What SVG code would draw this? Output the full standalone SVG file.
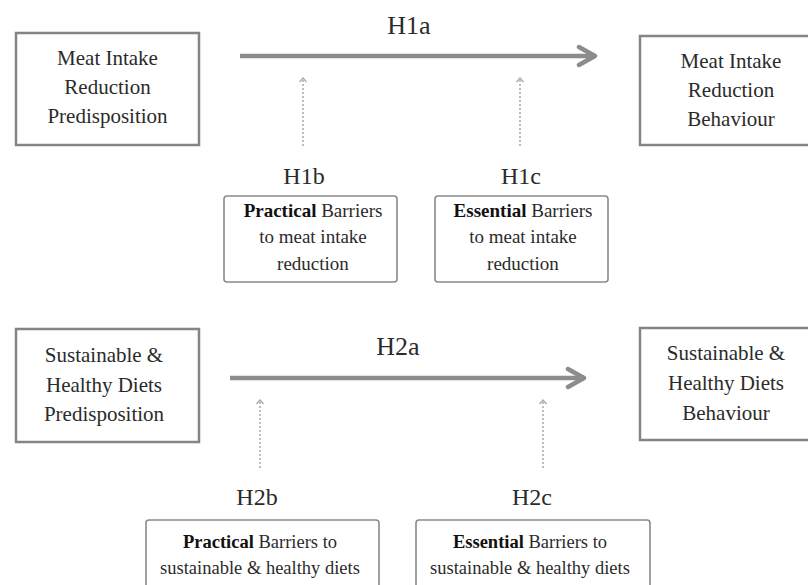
<svg xmlns="http://www.w3.org/2000/svg" width="808" height="585" viewBox="0 0 808 585" font-family="Liberation Serif, Tinos, DejaVu Serif, serif">
<defs>
<style>
text{fill:#2b2b2b;text-anchor:middle}
.big{font-size:21px}
.sm{font-size:19px}
.sm2{font-size:18.5px}
.lab{font-size:24px}
.hl{font-size:26px}
.b{font-weight:bold;fill:#111}
.bx{fill:#fff;stroke:#858585;stroke-width:2.5}
.sbx{fill:#fff;stroke:#8a8a8a;stroke-width:1.6}
.main{fill:none;stroke:#8c8c8c;stroke-width:4.5;stroke-linecap:butt}
.dot{fill:none;stroke:#a8a8a8;stroke-width:1.5;stroke-dasharray:2 2}
</style>
<marker id="chev" markerUnits="userSpaceOnUse" viewBox="-20 -12 24 24" refX="0" refY="0" markerWidth="24" markerHeight="24" orient="auto">
<path d="M-16,-9 L0,0 L-16,9" fill="none" stroke="#8c8c8c" stroke-width="4.5" stroke-linecap="round" stroke-linejoin="round"/>
</marker>
<marker id="small" markerUnits="userSpaceOnUse" viewBox="-8 -6 10 12" refX="0" refY="0" markerWidth="10" markerHeight="12" orient="auto">
<path d="M-4,-3.5 L0,0 L-4,3.5" fill="none" stroke="#a8a8a8" stroke-width="1.3"/>
</marker>
</defs>
<rect width="808" height="585" fill="#fff"/>

<g id="connectors">
<line class="main" x1="240" y1="56" x2="595" y2="56" marker-end="url(#chev)"/>
<line class="main" x1="230" y1="378" x2="584" y2="378" marker-end="url(#chev)"/>
<line class="dot" x1="303" y1="146" x2="303" y2="78" marker-end="url(#small)"/>
<line class="dot" x1="520" y1="146" x2="520" y2="78" marker-end="url(#small)"/>
<line class="dot" x1="260" y1="468" x2="260" y2="400" marker-end="url(#small)"/>
<line class="dot" x1="543" y1="468" x2="543" y2="400" marker-end="url(#small)"/>
<text class="hl" x="409" y="34">H1a</text>
<text class="hl" x="398" y="355">H2a</text>
<text class="lab" x="304" y="184">H1b</text>
<text class="lab" x="521" y="184">H1c</text>
<text class="lab" x="257" y="505">H2b</text>
<text class="lab" x="532" y="505">H2c</text>
</g>

<g id="mir-predisposition">
<rect class="bx" x="16" y="33" width="183" height="112"/>
<text class="big" x="107.5" y="65">Meat Intake</text>
<text class="big" x="107.5" y="94">Reduction</text>
<text class="big" x="107.5" y="123">Predisposition</text>
</g>

<g id="mir-behaviour">
<rect class="bx" x="640" y="36" width="183" height="109"/>
<text class="big" x="731" y="68">Meat Intake</text>
<text class="big" x="731" y="97">Reduction</text>
<text class="big" x="731" y="126">Behaviour</text>
</g>

<g id="practical-1">
<rect class="sbx" x="224" y="196" width="173" height="86" rx="3"/>
<text class="sm" x="313" y="217"><tspan class="b">Practical</tspan> Barriers</text>
<text class="sm" x="313" y="243">to meat intake</text>
<text class="sm" x="313" y="270">reduction</text>
</g>

<g id="essential-1">
<rect class="sbx" x="435" y="196" width="173" height="86" rx="3"/>
<text class="sm" x="523" y="217"><tspan class="b">Essential</tspan> Barriers</text>
<text class="sm" x="523" y="243">to meat intake</text>
<text class="sm" x="523" y="270">reduction</text>
</g>

<g id="shd-predisposition">
<rect class="bx" x="16" y="329" width="183" height="113"/>
<text class="big" x="104" y="362">Sustainable &amp;</text>
<text class="big" x="104" y="392">Healthy Diets</text>
<text class="big" x="104" y="421">Predisposition</text>
</g>

<g id="shd-behaviour">
<rect class="bx" x="640" y="328" width="183" height="112"/>
<text class="big" x="726" y="360">Sustainable &amp;</text>
<text class="big" x="726" y="390">Healthy Diets</text>
<text class="big" x="726" y="420">Behaviour</text>
</g>

<g id="practical-2">
<rect class="sbx" x="146" y="520" width="233" height="90" rx="3"/>
<text class="sm2" x="260" y="548"><tspan class="b">Practical</tspan> Barriers to</text>
<text class="sm2" x="260" y="574">sustainable &amp; healthy diets</text>
</g>

<g id="essential-2">
<rect class="sbx" x="416" y="520" width="234" height="90" rx="3"/>
<text class="sm2" x="530" y="548"><tspan class="b">Essential</tspan> Barriers to</text>
<text class="sm2" x="530" y="574">sustainable &amp; healthy diets</text>
</g>
</svg>
